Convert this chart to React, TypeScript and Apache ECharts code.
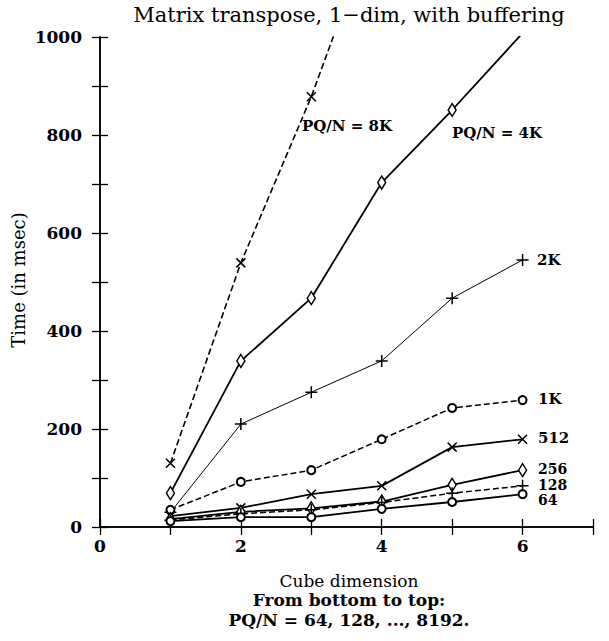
import React, { useEffect, useRef } from "react";
import * as echarts from "echarts";

const xValues = [1, 2, 3, 4, 5, 6];
const s8K = [130, 539, 878, 1270];
const s4K = [69, 339, 467, 703, 851, 1008];
const s2K = [30, 210, 275, 339, 467, 545];
const s1K = [35, 92, 116, 179, 243, 259];
const s512 = [22, 39, 67, 84, 163, 179];
const s256 = [16, 31, 38, 52, 86, 116];
const s128 = [14, 27, 35, 50, 69, 84];
const s64 = [12, 20, 20, 37, 51, 67];

const FONT = "'DejaVu Serif', serif";
const SYM_X = "path://M0,0L10,10M10,0L0,10";
const SYM_PLUS = "path://M5,0L5,10M0,5L10,5";
const SYM_DIAMOND = "path://M5,0L9,10L5,20L1,10Z";

function pts(vals: number[]) {
  return vals.map((v, i) => [xValues[i], v]);
}

function mk(name: string, vals: number[], type: string, width: number, symbol: string, size: any) {
  const open = symbol === "emptyCircle";
  return {
    name,
    type: "line",
    data: pts(vals),
    symbol,
    symbolSize: size,
    showSymbol: true,
    clip: true,
    lineStyle: { color: "#000", width, type },
    itemStyle: open
      ? { color: "#000", borderColor: "#000", borderWidth: 1.3 }
      : { color: "#fff", borderColor: "#000", borderWidth: 1.5 },
    z: 3,
  };
}

function t(text: string, x: number, y: number, size: number, bold: boolean, extra: any = {}) {
  return {
    type: "text",
    x,
    y,
    ...extra,
    style: {
      text,
      font: `${bold ? "bold " : ""}${size}px ${FONT}`,
      fill: "#000",
      align: extra.align || "left",
      verticalAlign: "middle",
    },
  };
}

export default function App() {
  const ref = useRef<HTMLDivElement>(null);
  useEffect(() => {
    const chart = echarts.init(ref.current!, null, { renderer: "svg" });
    const axisCommon = {
      type: "value",
      axisLine: { show: true, lineStyle: { color: "#000", width: 1.5 } },
      axisTick: { show: true, inside: true, length: 8, lineStyle: { color: "#000", width: 1.3 } },
      splitLine: { show: false },
    };
    const lbl = { fontFamily: FONT, color: "#000", fontSize: 17, fontWeight: "bold" };
    chart.setOption({
      animation: false,
      backgroundColor: "#fff",
      grid: { left: 100, right: 16, top: 37, bottom: 114, show: false },
      xAxis: [
        {
          ...axisCommon,
          min: 0,
          max: 7,
          interval: 1,
          position: "bottom",
          axisLabel: {
            ...lbl,
            margin: 10,
            formatter: (v: number) => (v % 2 === 0 && v < 7 ? String(v) : ""),
          },
        },
        {
          ...axisCommon,
          min: 0,
          max: 7,
          interval: 1,
          position: "top",
          axisLabel: { show: false },
        },
      ],
      yAxis: [
        {
          ...axisCommon,
          min: 0,
          max: 1000,
          interval: 100,
          position: "left",
          axisLabel: {
            ...lbl,
            margin: 18,
            formatter: (v: number) => (v % 200 === 0 ? String(v) : ""),
          },
        },
        {
          ...axisCommon,
          min: 0,
          max: 1000,
          interval: 100,
          position: "right",
          axisLabel: { show: false },
        },
      ],
      series: [
        mk("8K", s8K, "dashed", 1.6, SYM_X, 9),
        mk("4K", s4K, "solid", 1.8, SYM_DIAMOND, [8, 13]),
        mk("2K", s2K, "solid", 1, SYM_PLUS, 12),
        mk("1K", s1K, "dashed", 1.5, "emptyCircle", 8),
        mk("512", s512, "solid", 1.8, SYM_X, 9),
        mk("256", s256, "solid", 1.8, SYM_DIAMOND, [8, 13]),
        mk("128", s128, "dashed", 1.5, SYM_PLUS, 12),
        mk("64", s64, "solid", 1.8, "emptyCircle", 8),
      ],
      graphic: [
        t("Matrix transpose, 1\u2212dim, with buffering", 349, 15, 21, false, { align: "center" }),
        t("Time (in msec)", 18, 280, 18, false, { align: "center", rotation: Math.PI / 2 }),
        t("Cube dimension", 349, 581, 17, false, { align: "center" }),
        t("From bottom to top:", 349, 600, 17, true, { align: "center" }),
        t("PQ/N = 64, 128, ..., 8192.", 349, 620, 17, true, { align: "center" }),
        t("PQ/N = 8K", 302, 126, 15, true),
        t("PQ/N = 4K", 452, 133, 15, true),
        t("2K", 537, 260, 15, true),
        t("1K", 538, 399, 15, true),
        t("512", 538, 438, 15, true),
        t("256", 538, 469, 14, true),
        t("128", 538, 485, 14, true),
        t("64", 538, 500, 14, true),
      ],
    });
    return () => chart.dispose();
  }, []);
  return <div ref={ref} style={{ width: 609, height: 641, position: "absolute", left: 0, top: 0 }} />;
}
